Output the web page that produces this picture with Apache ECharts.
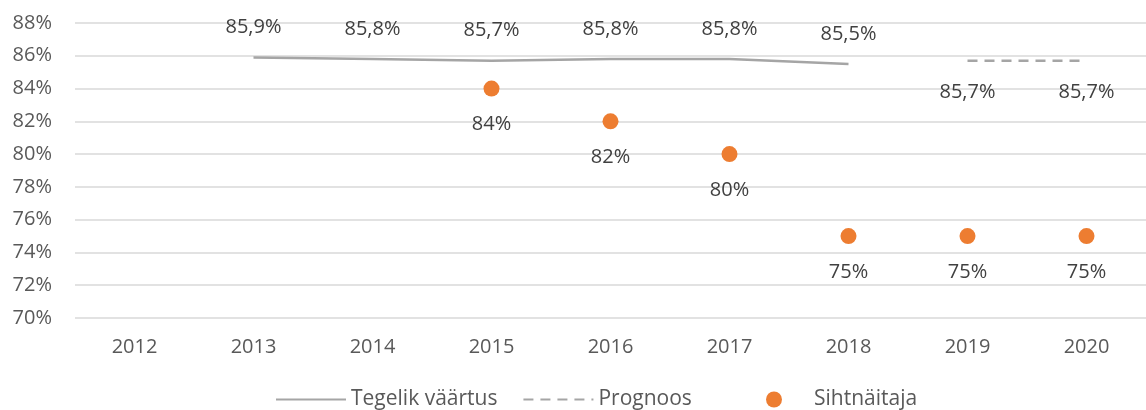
<!DOCTYPE html>
<html>
<head>
<meta charset="utf-8">
<script src="https://cdn.jsdelivr.net/npm/echarts@6/dist/echarts.min.js"></script>
<style>
  html, body { margin: 0; padding: 0; background: #fff; }
  #chart { width: 1146px; height: 410px; }
</style>
</head>
<body>
<div id="chart"></div>
<script>
// andmed
var years = ['2012', '2013', '2014', '2015', '2016', '2017', '2018', '2019', '2020'];
var tegelik = [null, 85.9, 85.8, 85.7, 85.8, 85.8, 85.5, null, null];
var prognoos = [null, null, null, null, null, null, null, 85.7, 85.7];
var sihtnaitaja = [null, null, null, 84, 82, 80, 75, 75, 75];

var font = 'Open Sans';
var pct = function (v) { return String(v).replace('.', ',') + '%'; };

var myChart = echarts.init(document.getElementById('chart'));
var option = {
  animation: false,
  textStyle: { fontFamily: font },
  grid: { left: 75, top: 23, width: 1080, height: 295, containLabel: false },
  legend: [
    {
      left: 270, top: 384,
      itemWidth: 70, itemHeight: 14, itemGap: 25,
      textStyle: { fontFamily: font, fontSize: 21, color: '#595959' },
      data: [
        { name: 'Tegelik väärtus', itemStyle: { opacity: 0 } },
        { name: 'Prognoos', itemStyle: { opacity: 0 } }
      ]
    },
    {
      left: 761, top: 384,
      itemWidth: 70, itemHeight: 16,
      textStyle: { fontFamily: font, fontSize: 21, color: '#595959' },
      data: [{ name: 'Sihtnäitaja', icon: 'circle' }]
    }
  ],
  xAxis: {
    type: 'category',
    data: years,
    axisLine: { show: false },
    axisTick: { show: false },
    axisLabel: { color: '#595959', fontSize: 20, margin: 19 }
  },
  yAxis: {
    type: 'value',
    min: 70, max: 88, interval: 2,
    axisLine: { show: false },
    axisTick: { show: false },
    splitLine: { lineStyle: { color: '#d9d9d9', width: 1.5 } },
    axisLabel: { color: '#595959', fontSize: 20, margin: 23, formatter: '{value}%' }
  },
  series: [
    {
      name: 'Tegelik väärtus',
      type: 'line',
      data: tegelik,
      symbol: 'circle',
      symbolSize: 0,
      showSymbol: true,
      lineStyle: { color: '#a5a5a5', width: 2.5 },
      itemStyle: { color: '#a5a5a5' },
      label: {
        show: true, position: 'top', distance: 20,
        color: '#404040', fontSize: 20,
        formatter: function (p) { return pct(p.value); }
      }
    },
    {
      name: 'Prognoos',
      type: 'line',
      data: prognoos,
      symbol: 'circle',
      symbolSize: 0,
      showSymbol: true,
      lineStyle: { color: '#a5a5a5', width: 2.5, type: [10, 7] },
      itemStyle: { color: '#a5a5a5' },
      label: {
        show: true, position: 'bottom', distance: 22,
        color: '#404040', fontSize: 20,
        formatter: function (p) { return pct(p.value); }
      }
    },
    {
      name: 'Sihtnäitaja',
      type: 'scatter',
      data: sihtnaitaja,
      symbolSize: 16,
      itemStyle: { color: '#ed7d31', opacity: 1 },
      label: {
        show: true, position: 'bottom', distance: 18,
        color: '#404040', fontSize: 20,
        formatter: function (p) { return pct(p.value); }
      }
    }
  ]
};
myChart.setOption(option);
window.onresize = myChart.resize;
</script>
</body>
</html>
